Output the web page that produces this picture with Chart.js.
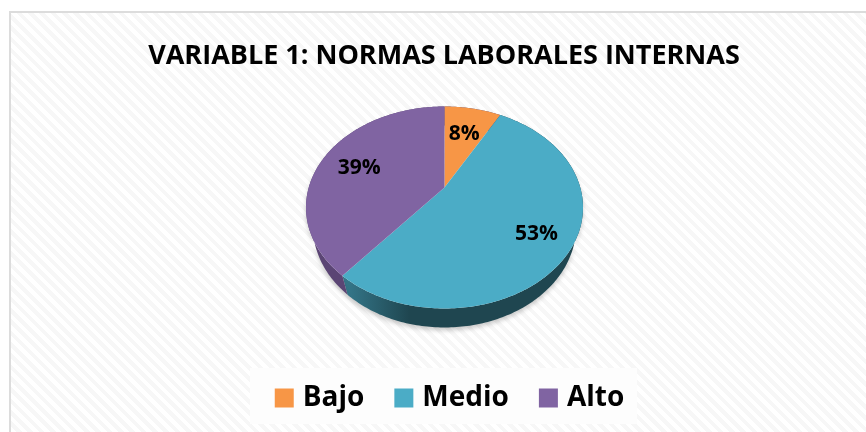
<!DOCTYPE html>
<html>
<head>
<meta charset="utf-8">
<script src="https://cdn.jsdelivr.net/npm/chart.js@4"></script>
<style>
    html, body { margin: 0; padding: 0; background: #fff; }
    #card {
        position: absolute; left: 9px; top: 11px; width: 857px; height: 421px;
        box-sizing: border-box;
        border-top: 2px solid #dcdcdc; border-left: 2px solid #dcdcdc;
        background: repeating-linear-gradient(45deg, #fff 0, #fff 4px, #f7f7f7 4px, #f7f7f7 8px);
    }
    #legendBack { position: absolute; left: 250px; top: 368px; width: 387px; height: 56px; background: #fdfdfd; }
    #chart { position: absolute; left: 0; top: 0; }
</style>
</head>
<body>
<div id="card"></div>
<div id="legendBack"></div>
<canvas id="chart" width="866" height="432"></canvas>
<script>
const categories = ['Bajo', 'Medio', 'Alto'];
const percentValues = [8, 53, 39];
const sliceColors = ['#f79646', '#4bacc6', '#8064a2'];
const titleText = 'VARIABLE 1: NORMAS LABORALES INTERNAS';

const FONT = '"Open Sans", sans-serif';
const labelRadius = [0.66, 0.75, 0.7];

// the office 3D pie is a tilted disc, so the centre of the disc is not the centre of the ellipse
const cx = 444.5, cy = 207.5, rx = 138.5, ry = 101, depth = 19;
const tilt = -20 / ry;
const ax = rx * Math.sqrt(1 - tilt * tilt);

function project(angle, f) {
    const u = Math.cos(angle) * f, v = Math.sin(angle) * f;
    const w = 1 + tilt * v;
    return { x: cx + ax * u / w, y: cy + (ry * v + ry * tilt) / w };
}

function rimPoints(start, end) {
    const pts = [];
    const steps = Math.max(2, Math.ceil((end - start) * 60));
    for (let i = 0; i <= steps; i++) pts.push(project(start + (end - start) * i / steps, 1));
    return pts;
}

function sideGradient(ctx, color) {
    const g = ctx.createLinearGradient(345, 0, 575, 0);
    if (color === sliceColors[1]) {
        g.addColorStop(0, '#35788b');
        g.addColorStop(0.28, '#1f4650');
        g.addColorStop(1, '#1f4650');
    } else {
        g.addColorStop(0, '#5b4574');
        g.addColorStop(1, '#4a385f');
    }
    return g;
}

const tiltedPie = {
    id: 'tiltedPie',
    afterLayout(chart) {
        // the legend block sits a little right of the title in the original
        chart.legend.left += 8;
        chart.legend.right += 8;
    },
    beforeDatasetDraw(chart) {
        const ctx = chart.ctx;
        const arcs = chart.getDatasetMeta(0).data;
        ctx.save();
        // soft shadow and the side wall, the foot of the wall is a bit narrower
        arcs.forEach((arc, i) => {
            const pts = rimPoints(arc.startAngle, arc.endAngle);
            ctx.beginPath();
            pts.forEach((p, n) => n ? ctx.lineTo(p.x, p.y) : ctx.moveTo(p.x, p.y));
            pts.slice().reverse().forEach(p => ctx.lineTo(cx + (p.x - cx) * 0.95, p.y + depth));
            ctx.closePath();
            ctx.shadowColor = 'rgba(0,0,0,0.2)';
            ctx.shadowBlur = 4;
            ctx.shadowOffsetY = 3;
            ctx.fillStyle = sideGradient(ctx, sliceColors[i]);
            ctx.fill();
        });
        ctx.shadowColor = 'transparent';
        ctx.shadowBlur = 0;
        ctx.shadowOffsetY = 0;
        // top face
        arcs.forEach((arc, i) => {
            const apex = project(0, 0);
            ctx.beginPath();
            ctx.moveTo(apex.x, apex.y);
            rimPoints(arc.startAngle, arc.endAngle).forEach(p => ctx.lineTo(p.x, p.y));
            ctx.closePath();
            ctx.fillStyle = sliceColors[i];
            ctx.fill();
        });
        ctx.restore();
        return false;
    },
    afterDatasetsDraw(chart) {
        const ctx = chart.ctx;
        const arcs = chart.getDatasetMeta(0).data;
        ctx.save();
        ctx.font = 'bold 21px ' + FONT;
        ctx.fillStyle = '#000';
        ctx.textAlign = 'center';
        ctx.textBaseline = 'middle';
        arcs.forEach((arc, i) => {
            const p = project((arc.startAngle + arc.endAngle) / 2, labelRadius[i]);
            ctx.fillText(percentValues[i] + '%', p.x, p.y + 2);
        });
        ctx.restore();
    }
};

new Chart(document.getElementById('chart'), {
    type: 'pie',
    data: {
        labels: categories,
        datasets: [{ data: percentValues, backgroundColor: sliceColors, borderWidth: 0 }]
    },
    plugins: [tiltedPie],
    options: {
        responsive: false,
        animation: false,
        layout: { padding: { top: 40, bottom: 10, left: 22 } },
        plugins: {
            tooltip: { enabled: false },
            title: {
                display: true,
                text: titleText,
                color: '#000',
                font: { family: FONT, size: 27, weight: 'bold' },
                padding: { top: 0, bottom: 10 }
            },
            legend: {
                position: 'bottom',
                labels: {
                    color: '#000',
                    font: { family: FONT, size: 28, weight: 'bold' },
                    usePointStyle: true,
                    pointStyle: 'rect',
                    boxWidth: 9,
                    boxHeight: 19,
                    padding: 35
                }
            }
        }
    }
});
</script>
</body>
</html>
